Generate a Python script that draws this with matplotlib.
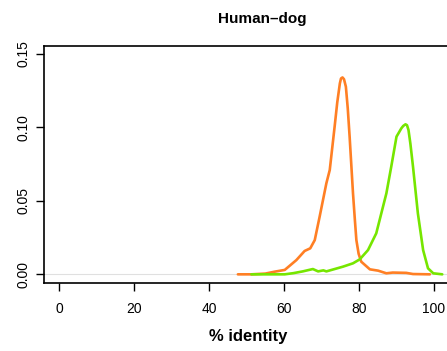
import matplotlib
matplotlib.use("Agg")
import matplotlib.pyplot as plt

plt.rcParams['font.family'] = ['Liberation Sans', 'DejaVu Sans']

title = "Human\u2013dog"
xlabel = "% identity"
xticks = [0, 20, 40, 60, 80, 100]
yticks = [0.00, 0.05, 0.10, 0.15]
ytick_labels = ["0.00", "0.05", "0.10", "0.15"]

# Orange series
orange_x = [47.7, 51.3, 55.0, 57.5, 60.2, 63.3, 65.5, 67.0, 68.2, 69.5, 71.3, 72.2,
            73.5, 74.2, 74.9, 75.2, 75.6, 76.0, 76.5, 77.0, 77.5, 78.4, 78.9, 79.3,
            79.9, 80.6, 82.9, 85.1, 87.3, 89.0, 92.6, 94.4, 98.9]
orange_y = [0.0, 0.0, 0.0005, 0.0018, 0.003, 0.0097, 0.0159, 0.0177, 0.0233, 0.0392,
            0.062, 0.071, 0.1005, 0.117, 0.130, 0.1333, 0.134, 0.1328, 0.1277, 0.113,
            0.0937, 0.0551, 0.037, 0.0233, 0.014, 0.0086, 0.0034, 0.0025, 0.0007,
            0.0012, 0.001, 0.0002, 0.0]

# Green series
green_x = [51.3, 56.0, 60.2, 62.5, 65.0, 67.7, 69.1, 70.5, 71.3, 73.5, 75.7, 78.4,
           80.2, 82.4, 84.6, 87.3, 88.6, 90.0, 91.3, 91.8, 92.4, 92.8, 93.2, 93.7,
           94.4, 95.7, 97.1, 98.4, 99.8, 102.2]
green_y = [0.0, 0.0, 0.0, 0.0008, 0.002, 0.0036, 0.002, 0.0027, 0.002, 0.0036, 0.0052,
           0.0075, 0.0102, 0.0165, 0.0279, 0.0551, 0.0733, 0.0937, 0.0994, 0.1010,
           0.1021, 0.1015, 0.0982, 0.089, 0.0733, 0.0415, 0.0165, 0.0041, 0.0007, 0.0]

W, H = 447, 351
fig = plt.figure(figsize=(W / 100, H / 100), dpi=100)
ax = fig.add_axes([44 / W, (H - 283) / H, 405 / W, 237 / H])

ax.axhline(0, color="#e0e0e0", lw=0.8, zorder=1)
ax.plot(orange_x, orange_y, color="#FF7F24", lw=1.9, zorder=3,
        solid_joinstyle="round", solid_capstyle="round")
ax.plot(green_x, green_y, color="#76E600", lw=1.9, zorder=3,
        solid_joinstyle="round", solid_capstyle="round")

ax.set_xlim(-4, 104)
ax.set_ylim(-0.0059, 0.1554)
ax.set_xticks(xticks)
ax.set_xticklabels([str(v) for v in xticks])
ax.set_yticks(yticks)
ax.set_yticklabels(ytick_labels, rotation=90, va="center")
for s in ax.spines.values():
    s.set_linewidth(1.2)
    s.set_color("black")
ax.tick_params(axis="both", length=6, width=1.0, labelsize=10, colors="black")
ax.tick_params(axis="x", pad=8)
ax.tick_params(axis="y", pad=4)

fig.text(262 / W, 1 - 19 / H, title, ha="center", va="center",
         fontsize=11, fontweight="bold")
fig.text(248 / W, 1 - 337 / H, xlabel, ha="center", va="center",
         fontsize=12, fontweight="bold")

fig.savefig("out.png", dpi=100)
